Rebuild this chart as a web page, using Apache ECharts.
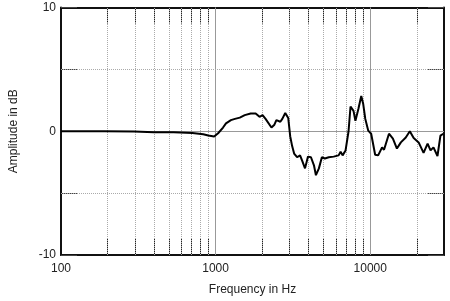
<!DOCTYPE html>
<html>
<head>
<meta charset="utf-8">
<script src="https://cdn.jsdelivr.net/npm/echarts@6/dist/echarts.min.js"></script>
<style>html,body{margin:0;padding:0;background:#fff}#c{width:450px;height:301px}</style>
</head>
<body>
<div id="c"></div>
<script>
var freqs = [100,191,297,399,535,708,832,896,978,1038,1117,1167,1256,1333,1434,1543,1686,1815,1924,2012,2104,2297,2400,2472,2621,2700,2821,2949,3036,3126,3219,3365,3517,3622,3786,3958,4137,4325,4454,4656,4867,5088,5392,5803,6245,6433,6626,6926,7240,7457,7795,8020,8380,8750,9010,9290,9710,10140,10760,11250,11930,12280,13220,14020,14880,15780,16980,18030,19100,20560,22130,23500,24550,25650,27220,28450,29700];
var amps = [0,0,-0.02,-0.08,-0.08,-0.15,-0.25,-0.35,-0.43,-0.16,0.3,0.64,0.9,1.0,1.1,1.3,1.44,1.44,1.17,1.3,1.0,0.3,0.53,0.9,0.77,1.0,1.47,1.07,-0.4,-1.2,-1.8,-2.1,-1.95,-2.35,-3.0,-2.05,-2.1,-2.75,-3.55,-3.0,-2.1,-2.2,-2.1,-2.05,-1.95,-1.65,-1.95,-1.55,0,2.0,1.65,0.85,1.8,2.85,2.2,1.0,0.05,-0.2,-1.9,-1.95,-1.3,-1.5,-0.2,-0.6,-1.4,-0.9,-0.5,0,-0.55,-0.9,-1.75,-1.0,-1.55,-1.3,-2.0,-0.35,-0.2];
var minorFreqs = [200,300,400,500,600,700,800,900,2000,3000,4000,5000,6000,7000,8000,9000,20000];
var majorFreqs = [1000,10000];
var xLabels = [100,1000,10000];
var yMinor = [-5,5];
var yLabels = [-10,0,10];

var font = 'Liberation Sans, Arial, sans-serif';
var data = freqs.map(function(f,i){return [f, amps[i]];});
var gridLines = [];
minorFreqs.forEach(function(f){gridLines.push({xAxis:f, lineStyle:{type:'dotted', color:'#aaa', width:1}});});
majorFreqs.forEach(function(f){gridLines.push({xAxis:f, lineStyle:{type:'solid', color:'#999', width:1}});});
yMinor.forEach(function(v){gridLines.push({yAxis:v, lineStyle:{type:'dotted', color:'#aaa', width:1}});});
gridLines.push({yAxis:0, lineStyle:{type:'solid', color:'#999', width:1}});

var tickVals = minorFreqs.concat(majorFreqs);
function xAx(pos, labels){
  return {
    type:'log', logBase:10, min:100, max:30000, position:pos,
    axisLine:{show:true, onZero:false, lineStyle:{color:'#111', width:2}},
    axisTick:{show:true, inside:true, length:16, customValues:tickVals, lineStyle:{color:'#222', width:1}},
    axisLabel:{show:labels, customValues:xLabels, margin:8, color:'#222', fontFamily:font, fontSize:12,
      formatter:function(v){return String(Math.round(v));}},
    splitLine:{show:false}, minorTick:{show:false},
    name: labels ? 'Frequency in Hz' : '', nameLocation:'middle', nameGap:29,
    nameTextStyle:{color:'#222', fontFamily:font, fontSize:12}
  };
}
function yAx(pos, labels){
  return {
    type:'value', min:-10, max:10, interval:5, position:pos,
    axisLine:{show:true, onZero:false, lineStyle:{color:'#111', width:2}},
    axisTick:{show:true, inside:true, length:16, lineStyle:{color:'#444', width:1}},
    axisLabel:{show:labels, margin:5, color:'#222', fontFamily:font, fontSize:12,
      formatter:function(v){return yLabels.indexOf(v)>=0 ? String(v) : '';}},
    splitLine:{show:false},
    name: labels ? 'Amplitude in dB' : '', nameLocation:'middle', nameGap:41,
    nameTextStyle:{color:'#222', fontFamily:font, fontSize:12}
  };
}
var chart = echarts.init(document.getElementById('c'), null, {renderer:'canvas'});
chart.setOption({
  animation:false,
  backgroundColor:'#fff',
  grid:{left:56, right:6, top:7.5, bottom:43.7, containLabel:false},
  xAxis:[xAx('bottom', true), xAx('top', false)],
  yAxis:[yAx('left', true), yAx('right', false)],
  series:[{
    type:'line', data:data, xAxisIndex:0, yAxisIndex:0,
    showSymbol:false, symbol:'none', smooth:false,
    lineStyle:{color:'#000', width:2}, z:5,
    markLine:{silent:true, symbol:['none','none'], label:{show:false}, animation:false, z:1, data:gridLines}
  }]
});
</script>
</body>
</html>
